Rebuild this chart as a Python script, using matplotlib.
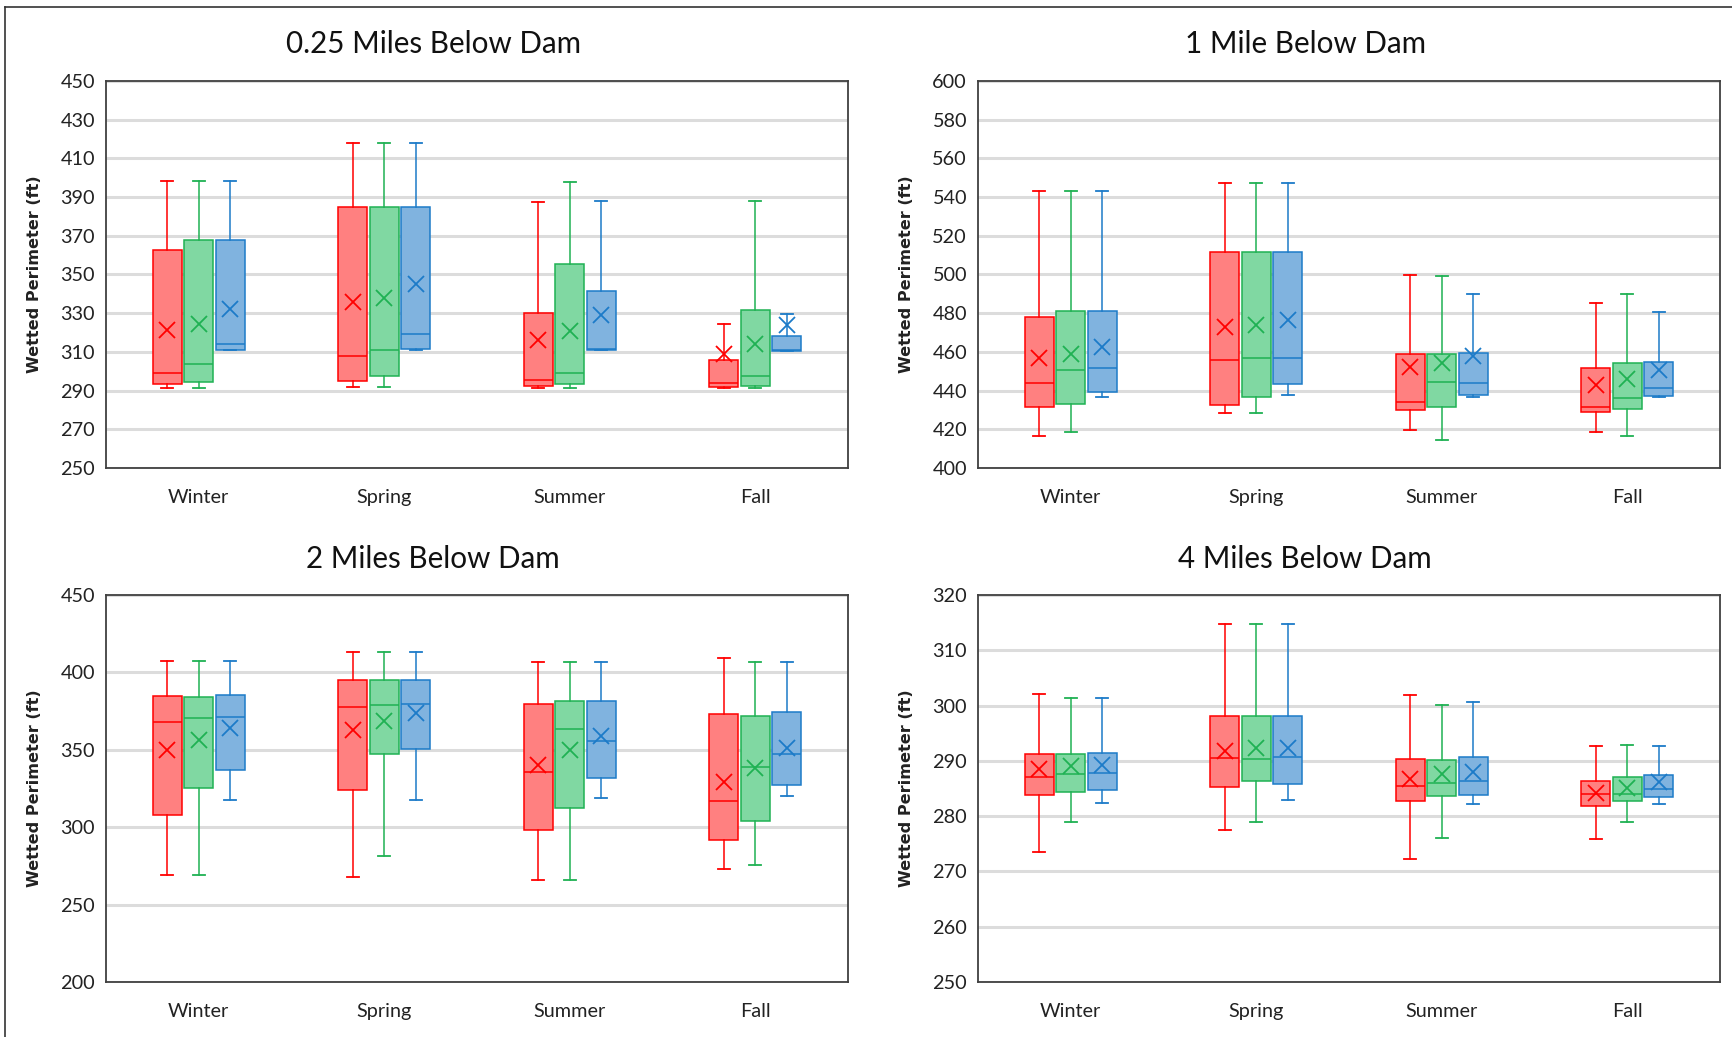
import numpy as np
import matplotlib
matplotlib.use("Agg")
from matplotlib import pyplot as plt
from matplotlib.lines import Line2D

SEASONS = ["Winter", "Spring", "Summer", "Fall"]
TITLES = ["0.25 Miles Below Dam", "1 Mile Below Dam", "2 Miles Below Dam", "4 Miles Below Dam"]

# rows = season, columns = red / green / blue series
MIN_025 = [[291.4, 291.4, 310.8], [292.1, 292.1, 310.8], [291.4, 291.4, 310.8], [291.4, 291.4, 310.4]]
Q1_025 = [[293.5, 294.7, 311.1], [294.8, 297.4, 311.6], [292.6, 293.5, 311.1], [292.1, 292.6, 310.4]]
MED_025 = [[299.2, 303.5, 314.2], [307.7, 311.1, 319.4], [295.5, 299.2, 311.6], [294.0, 297.4, 311.1]]
Q3_025 = [[362.4, 367.9, 367.9], [384.9, 384.9, 384.9], [330.2, 355.3, 341.4], [305.9, 331.6, 318.2]]
MAX_025 = [[398.4, 398.4, 398.4], [418.0, 418.0, 418.0], [387.3, 397.9, 387.8], [324.3, 388.2, 329.5]]
MEAN_025 = [[321.2, 324.6, 332.4], [335.9, 338.0, 344.9], [316.3, 320.6, 329.0], [309.0, 314.2, 323.8]]

MIN_1 = [[416.7, 418.5, 436.9], [428.5, 428.5, 437.6], [419.7, 414.3, 436.9], [418.8, 416.7, 436.9]]
Q1_1 = [[431.3, 433.1, 439.3], [432.4, 436.7, 443.5], [429.9, 431.3, 437.9], [428.9, 430.6, 437.2]]
MED_1 = [[444.0, 450.6, 451.8], [456.0, 457.0, 457.0], [433.9, 444.5, 444.0], [431.3, 436.2, 441.4]]
Q3_1 = [[478.2, 481.3, 481.3], [511.4, 511.4, 511.4], [458.8, 459.1, 459.3], [451.8, 454.1, 454.9]]
MAX_1 = [[543.0, 543.0, 543.0], [547.3, 547.3, 547.3], [499.6, 499.0, 490.0], [485.2, 490.0, 480.5]]
MEAN_1 = [[457.0, 459.1, 462.6], [472.7, 474.0, 476.5], [452.3, 454.4, 457.9], [443.1, 446.1, 450.6]]

MIN_2 = [[269.0, 269.0, 317.8], [268.1, 281.6, 317.8], [265.7, 265.7, 318.6], [273.3, 275.7, 320.2]]
Q1_2 = [[308.2, 325.2, 336.9], [324.3, 347.0, 350.4], [298.4, 312.5, 332.1], [291.6, 303.8, 327.3]]
MED_2 = [[368.3, 370.5, 370.9], [377.9, 378.8, 379.6], [335.4, 363.5, 355.7], [317.1, 338.7, 347.4]]
Q3_2 = [[384.9, 384.4, 385.7], [394.9, 394.9, 394.9], [379.6, 381.4, 381.4], [372.9, 371.8, 374.4]]
MAX_2 = [[407.5, 407.5, 407.5], [413.4, 413.4, 413.4], [406.9, 406.9, 406.9], [409.3, 406.9, 406.9]]
MEAN_2 = [[350.0, 356.5, 364.4], [362.6, 368.7, 373.5], [340.0, 349.6, 358.7], [329.5, 338.2, 351.3]]

MIN_4 = [[273.5, 279.0, 282.4], [277.5, 279.0, 282.9], [272.3, 276.1, 282.2], [275.8, 279.0, 282.2]]
Q1_4 = [[283.9, 284.4, 284.7], [285.2, 286.3, 285.8], [282.7, 283.7, 283.9], [281.9, 282.7, 283.5]]
MED_4 = [[287.1, 287.7, 287.9], [290.5, 290.4, 290.7], [285.4, 286.0, 286.3], [284.0, 284.0, 285.0]]
Q3_4 = [[291.3, 291.3, 291.5], [298.2, 298.2, 298.2], [290.4, 290.2, 290.7], [286.3, 287.0, 287.4]]
MAX_4 = [[302.1, 301.4, 301.4], [314.7, 314.7, 314.7], [301.9, 300.1, 300.7], [292.7, 292.9, 292.7]]
MEAN_4 = [[288.5, 289.0, 289.3], [291.8, 292.3, 292.3], [286.8, 287.6, 288.0], [284.2, 285.1, 286.2]]

YTICKS = [np.arange(250, 451, 20), np.arange(400, 601, 20),
          np.arange(200, 451, 50), np.arange(250, 321, 10)]

EDGE = ["#FF0000", "#1FB153", "#1C7BC8"]
FILL = ["#FF8080", "#80D8A2", "#80B3DF"]


def draw_panel(ax, title_xy, title, stats, yticks):
    lo, q1, med, q3, hi, mean = stats
    offsets = [-0.17, 0.0, 0.17]
    for s in range(3):
        boxes = []
        for c in range(len(SEASONS)):
            boxes.append({"whislo": lo[c][s], "q1": q1[c][s], "med": med[c][s],
                          "q3": q3[c][s], "whishi": hi[c][s], "mean": mean[c][s],
                          "fliers": []})
        pos = [c + offsets[s] for c in range(len(SEASONS))]
        ax.bxp(boxes, positions=pos, widths=0.155, capwidths=0.065,
               patch_artist=True, showmeans=True, manage_ticks=False,
               boxprops=dict(facecolor=FILL[s], edgecolor=EDGE[s], linewidth=1.1),
               medianprops=dict(color=EDGE[s], linewidth=1.1),
               whiskerprops=dict(color=EDGE[s], linewidth=1.1),
               capprops=dict(color=EDGE[s], linewidth=1.3),
               meanprops=dict(marker="x", markeredgecolor=EDGE[s],
                              markersize=11, markeredgewidth=1.3),
               zorder=3)

    ax.set_xlim(-0.5, len(SEASONS) - 0.5)
    ax.set_xticks(range(len(SEASONS)))
    ax.set_xticklabels(SEASONS)
    ax.set_ylim(yticks[0], yticks[-1])
    ax.set_yticks(yticks)
    ax.tick_params(axis="both", length=0, labelsize=14.3, labelcolor="#222222")
    ax.tick_params(axis="y", pad=8)
    ax.tick_params(axis="x", pad=15)
    ax.yaxis.grid(True, color="#DCDCDC", linewidth=2.2)
    ax.set_axisbelow(True)
    for sp in ax.spines.values():
        sp.set_color("#404040")
        sp.set_linewidth(1.3)
    ax.set_ylabel("Wetted Perimeter (ft)", family="DejaVu Sans",
                  fontweight="bold", fontsize=11.6, color="#222222")
    ax.yaxis.set_label_coords(-0.086, 0.5)
    ax.figure.text(title_xy[0], title_xy[1], title, ha="center", va="center",
                   fontsize=21.3, color="#111111")


def main():
    plt.rcParams["font.family"] = ["Lato", "DejaVu Sans"]
    fig = plt.figure(figsize=(17.32, 10.37), dpi=100)

    left = [0.0612, 0.5647]
    bottom = [0.5487, 0.0530]
    w, h = 0.4284, 0.3732
    axes = [fig.add_axes([left[0], bottom[0], w, h]),
            fig.add_axes([left[1], bottom[0], w, h]),
            fig.add_axes([left[0], bottom[1], w, h]),
            fig.add_axes([left[1], bottom[1], w, h])]

    panels = [(MIN_025, Q1_025, MED_025, Q3_025, MAX_025, MEAN_025),
              (MIN_1, Q1_1, MED_1, Q3_1, MAX_1, MEAN_1),
              (MIN_2, Q1_2, MED_2, Q3_2, MAX_2, MEAN_2),
              (MIN_4, Q1_4, MED_4, Q3_4, MAX_4, MEAN_4)]
    title_pos = [(0.25, 0.958), (0.7535, 0.958), (0.25, 0.461), (0.7535, 0.461)]

    for ax, stats, tp, title, yt in zip(axes, panels, title_pos, TITLES, YTICKS):
        draw_panel(ax, tp, title, stats, yt)

    # thin frame round the sheet, left and top only
    fig.add_artist(Line2D([5 / 1732, 5 / 1732], [0, 1 - 7 / 1037],
                          transform=fig.transFigure, color="#333333", lw=1.2))
    fig.add_artist(Line2D([5 / 1732, 1], [1 - 7 / 1037, 1 - 7 / 1037],
                          transform=fig.transFigure, color="#333333", lw=1.2))

    fig.savefig("out.png", dpi=100, facecolor="white")


if __name__ == "__main__":
    main()
